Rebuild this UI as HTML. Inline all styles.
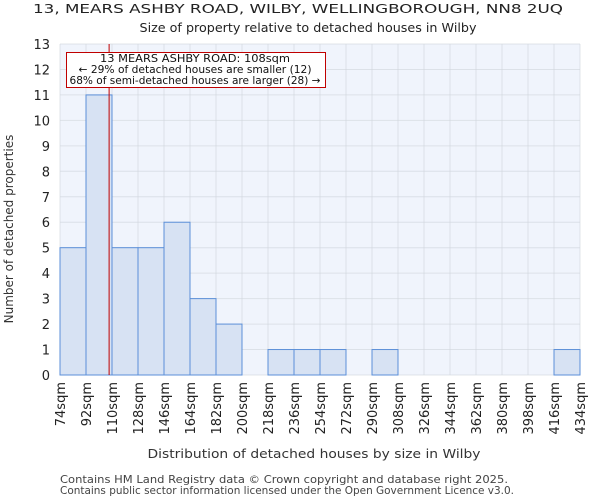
<!DOCTYPE html>
<html><head><meta charset="utf-8"><style>
body{margin:0;background:#fff;font-family:"DejaVu Sans","Liberation Sans",sans-serif;}
</style></head><body>
<svg id="c" width="600" height="500" xmlns="http://www.w3.org/2000/svg" font-family="DejaVu Sans, Liberation Sans, sans-serif">
<text x="298" y="13" font-size="12.5" text-anchor="middle" fill="#222" textLength="530" lengthAdjust="spacingAndGlyphs">13, MEARS ASHBY ROAD, WILBY, WELLINGBOROUGH, NN8 2UQ</text>
<text x="308" y="32" font-size="12.5" text-anchor="middle" fill="#222" textLength="337" lengthAdjust="spacingAndGlyphs">Size of property relative to detached houses in Wilby</text>
<rect x="60" y="44" width="520" height="331" fill="#f0f4fc"/>
<g id="grid"></g><g id="bars"></g><g id="ticks"></g>
<text transform="translate(13,229) rotate(-90)" font-size="12" text-anchor="middle" fill="#333">Number of detached properties</text>
<text x="314" y="458" font-size="12.5" text-anchor="middle" fill="#333" textLength="333" lengthAdjust="spacingAndGlyphs">Distribution of detached houses by size in Wilby</text>
<text x="60" y="483" font-size="10.5" fill="#444" textLength="448" lengthAdjust="spacingAndGlyphs">Contains HM Land Registry data © Crown copyright and database right 2025.</text>
<text x="60" y="494" font-size="10.5" fill="#444" textLength="454" lengthAdjust="spacingAndGlyphs">Contains public sector information licensed under the Open Government Licence v3.0.</text>
</svg>
<script>
const binStarts=[74,92,110,128,146,164,182,200,218,236,254,272,290,308,326,344,362,380,398,416,434];
const counts=[5,11,5,5,6,3,2,0,1,1,1,0,1,0,0,0,0,0,0,1];
const yTicks=[0,1,2,3,4,5,6,7,8,9,10,11,12,13];
const propertySize=108;
const NS="http://www.w3.org/2000/svg";
const X0=60,X1=580,Y0=375,Y1=44;
const xs=v=>X0+(v-74)/(434-74)*(X1-X0);
const ys=v=>Y0-v/13*(Y0-Y1);
function mk(t,a,p){const e=document.createElementNS(NS,t);for(const k in a)e.setAttribute(k,a[k]);p.appendChild(e);return e;}
const grid=document.getElementById('grid'),bars=document.getElementById('bars'),ticks=document.getElementById('ticks');
counts.forEach((c,i)=>{if(c<=0)return;
 const r=mk('rect',{x:xs(binStarts[i]),y:ys(c),width:xs(binStarts[i+1])-xs(binStarts[i]),height:ys(0)-ys(c),fill:'#d7e2f3',stroke:'#5b8fd8','stroke-width':1},bars);
 
 
});
yTicks.forEach(v=>{
 const l=mk('line',{x1:X0,x2:X1,y1:ys(v),y2:ys(v),stroke:'#cfd3da','stroke-width':1,'stroke-opacity':0.6},grid);
 
 
 const t=mk('text',{x:X0-10,y:ys(v)+5,'font-size':13,'text-anchor':'end',fill:'#222'},ticks);t.textContent=v;
 
 
});
binStarts.forEach(v=>{
 const l=mk('line',{x1:xs(v),x2:xs(v),y1:Y1,y2:Y0,stroke:'#cfd3da','stroke-width':1,'stroke-opacity':0.6},grid);
 
 
 const t=mk('text',{transform:`translate(${xs(v)+5},382) rotate(-90)`,'font-size':13,'text-anchor':'end',fill:'#222'},ticks);t.textContent=v+'sqm';
 
 
});
const svg=document.getElementById('c');
const pl=mk('line',{x1:xs(propertySize),x2:xs(propertySize),y1:Y1,y2:Y0,stroke:'#c00000','stroke-width':1},svg);


const g=mk('g',{},svg);


mk('rect',{x:66.5,y:52.5,width:259,height:35,fill:'#fff',stroke:'#c00000','stroke-width':1},g);
[['13 MEARS ASHBY ROAD: 108sqm',62,190],['← 29% of detached houses are smaller (12)',73,233],['68% of semi-detached houses are larger (28) →',84,251]].forEach(([s,y,w])=>{
 const t=mk('text',{x:195,y:y,'font-size':10.5,'text-anchor':'middle',fill:'#111',textLength:w,lengthAdjust:'spacingAndGlyphs'},g);t.textContent=s;
});
</script>
</body></html>
